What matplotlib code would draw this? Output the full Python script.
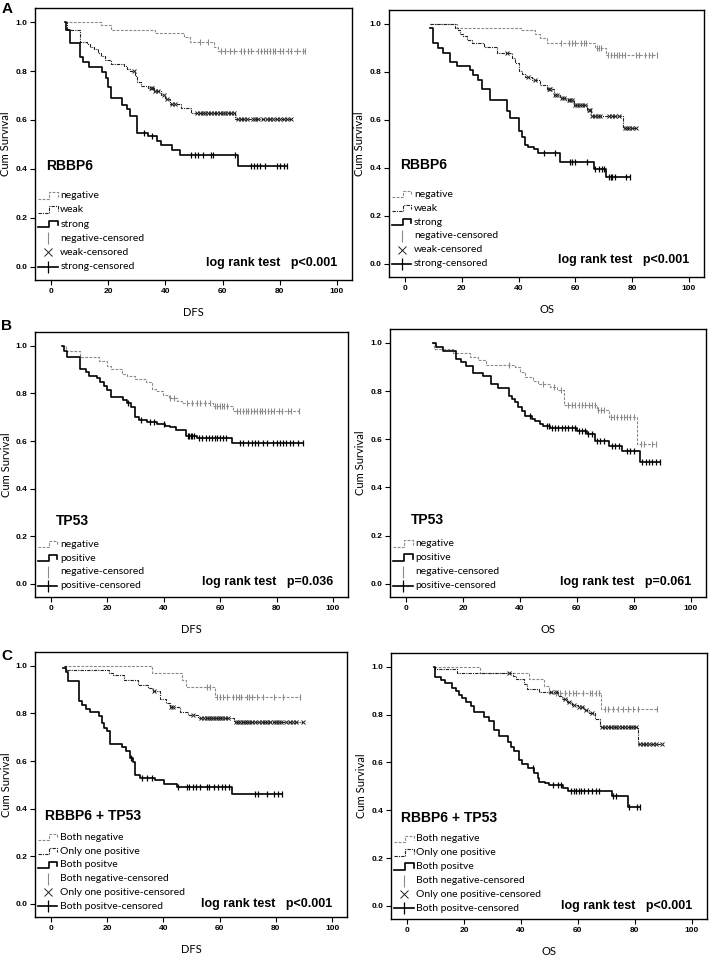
import numpy as np
import matplotlib
matplotlib.use("Agg")
import matplotlib.pyplot as plt

plt.rcParams['font.family'] = ['Lato', 'DejaVu Sans']

# ---------------- data ----------------
# A  RBBP6, DFS
a_dfs_neg_t = [5, 17.5, 21, 36.5, 46.5, 48.5, 57, 58.5]
a_dfs_neg_s = [1.0, 0.99, 0.97, 0.955, 0.94, 0.92, 0.90, 0.884]
a_dfs_neg_c = [52, 55, 59.5, 61, 62.5, 64, 66.5, 67.5, 69, 70, 72.5, 73.5, 74.5, 75.5,
               76.5, 77.5, 78.5, 80, 81, 83, 84, 86, 88, 89]
a_dfs_weak_t = [5, 5.5, 10.3, 12.5, 13.5, 15, 16.5, 17.5, 19, 21, 25.5, 26.5, 27.5, 29.5,
                30.2, 31.5, 34, 36, 38.5, 40, 41.5, 45.5, 49, 64.5]
a_dfs_weak_s = [1.0, 0.967, 0.92, 0.91, 0.90, 0.89, 0.875, 0.86, 0.845, 0.83, 0.82, 0.81,
                0.80, 0.78, 0.755, 0.74, 0.73, 0.72, 0.70, 0.685, 0.665, 0.65, 0.63, 0.605]
a_dfs_weak_c = [29, 35, 35.5, 36.5, 37.5, 39.5, 40.5, 42.5, 43.5, 51, 52, 53, 54, 55, 56, 57,
                58, 59, 60, 61, 62, 63, 64, 65.5, 66.5, 67.5, 68.5, 70.5, 71.5, 72.5, 74,
                75.5, 76.5, 77.5, 79, 80, 81.5, 82.5, 84]
a_dfs_str_t = [5, 5.4, 6.5, 10.3, 11.3, 13.3, 18, 19.2, 20, 21, 25, 26.5, 27.6, 30, 34, 37,
               38.5, 42.5, 45, 65.5]
a_dfs_str_s = [1.0, 0.967, 0.915, 0.858, 0.838, 0.815, 0.797, 0.77, 0.735, 0.69, 0.663, 0.643,
               0.615, 0.545, 0.533, 0.515, 0.497, 0.475, 0.455, 0.413]
a_dfs_str_c = [32.5, 35.5, 49, 50.5, 51.5, 53, 56, 56.5, 64.5, 70, 71, 72, 73, 75, 79, 80.2,
               81.4, 82.7]

# A  RBBP6, OS
a_os_neg_t = [9, 18.2, 40.9, 45.9, 47.6, 50, 67, 70.8]
a_os_neg_s = [1.0, 0.985, 0.975, 0.96, 0.94, 0.922, 0.898, 0.87]
a_os_neg_c = [55, 57.6, 58.8, 60, 61.9, 63, 63.9, 67.5, 68.2, 69.2, 71.5, 72.5, 73.5, 74.5,
              75.5, 76.5, 77.6, 81.2, 82.4, 84.7, 85.9, 87, 88.8]
a_os_weak_t = [9, 17.8, 18.6, 19.4, 20.5, 22, 23.5, 28, 32.4, 37.6, 38.6, 40, 41.2, 42.4,
               44.7, 47.6, 50, 52.4, 54.7, 56.7, 59.4, 64, 65.5, 76.8]
a_os_weak_s = [1.0, 0.985, 0.975, 0.96, 0.95, 0.935, 0.92, 0.905, 0.877, 0.856, 0.835, 0.804,
               0.793, 0.78, 0.765, 0.744, 0.73, 0.705, 0.692, 0.681, 0.664, 0.642, 0.618, 0.565]
a_os_weak_c = [36, 43.5, 45.9, 50.6, 51.2, 53, 53.6, 55.3, 55.9, 57.6, 58.2, 58.8, 60, 60.6,
               61.8, 62.4, 63.3, 64.7, 65.3, 66, 67, 68, 68.8, 71.8, 73, 74.1, 75.3, 77.5,
               78.2, 79, 80, 81.2]
a_os_str_t = [9, 10, 11.8, 13.5, 15.9, 18.2, 22.9, 24.1, 25.9, 27.1, 30, 35.9, 37.1, 40, 41.2,
              42.4, 43.5, 45.3, 46.8, 54.7, 66.5, 70.8]
a_os_str_s = [0.985, 0.919, 0.898, 0.877, 0.842, 0.824, 0.807, 0.786, 0.765, 0.73, 0.681,
              0.639, 0.608, 0.555, 0.527, 0.497, 0.485, 0.478, 0.463, 0.425, 0.394, 0.362]
a_os_str_c = [48.8, 52.9, 58.2, 58.8, 60, 64.1, 67, 68.2, 69.4, 70, 71.8, 72.4, 72.9, 73.9,
              77.9, 79.4]

# B  TP53, DFS
b_dfs_neg_t = [4.1, 5.3, 10.4, 17.1, 20, 21.2, 25.3, 27, 30, 33.9, 35.9, 37.1, 39.8, 41.8,
               44.8, 46.5, 57.5, 64.7]
b_dfs_neg_s = [1.0, 0.979, 0.952, 0.938, 0.917, 0.903, 0.883, 0.873, 0.862, 0.848, 0.82, 0.81,
               0.793, 0.782, 0.768, 0.759, 0.748, 0.728]
b_dfs_neg_c = [42.4, 43.5, 48.3, 50, 51.8, 53, 54.8, 56.5, 58.2, 59, 59.8, 60.6, 61.4, 62.5,
               66, 67, 68, 69, 70, 71, 72, 73, 74, 75, 76, 77, 78, 79, 81, 82, 84, 85, 88]
b_dfs_pos_t = [4.1, 4.7, 5.9, 10.4, 12.4, 13.5, 16.5, 17.4, 18.8, 20, 21.2, 25.7, 26.9, 28.3,
               30, 31.2, 34.1, 37.7, 40.3, 42.1, 44.5, 47.8, 51.8, 64.1]
b_dfs_pos_s = [1.0, 0.98, 0.955, 0.903, 0.892, 0.875, 0.864, 0.85, 0.831, 0.813, 0.785, 0.772,
               0.758, 0.745, 0.699, 0.689, 0.679, 0.671, 0.665, 0.657, 0.648, 0.622, 0.611,
               0.592]
b_dfs_pos_c = [27.5, 32, 35.3, 36.5, 40, 48.5, 49, 49.5, 50, 50.7, 52.5, 53.5, 55, 56, 57, 58,
               59, 60, 61, 62, 67, 68.2, 70, 71.2, 72.4, 73.5, 75.3, 76.5, 78.8, 80, 81.2,
               82.4, 83.5, 84.7, 85.9, 87.6, 89.4]

# B  TP53, OS
b_os_neg_t = [9.2, 9.9, 16.5, 22.4, 25.3, 28.2, 38.2, 40, 41.8, 44.7, 46.5, 50.6, 53, 55.3,
              67, 71.2, 81.2]
b_os_neg_s = [1.0, 0.975, 0.96, 0.94, 0.929, 0.91, 0.90, 0.879, 0.858, 0.844, 0.831, 0.817,
              0.804, 0.744, 0.722, 0.694, 0.579]
b_os_neg_c = [36.2, 48.2, 51.8, 54.5, 57, 58.2, 59.4, 60.6, 61.8, 62.9, 64.1, 65.3, 66.2,
              67.4, 68.5, 69.4, 71.8, 73, 74.1, 75.3, 76.5, 77.6, 78.8, 80, 82.4, 83.5, 86.5,
              87.6]
b_os_pos_t = [9.6, 10.6, 12.9, 17.6, 19.4, 21.2, 23.5, 27.1, 30, 32.4, 36.1, 37.1, 38.2,
              39.4, 40.6, 41.8, 44.2, 45.3, 47.1, 48.2, 50.6, 60, 63.5, 66.5, 71.2, 75.9, 82]
b_os_pos_s = [1.0, 0.982, 0.968, 0.933, 0.922, 0.906, 0.875, 0.864, 0.829, 0.811, 0.78,
              0.767, 0.753, 0.736, 0.718, 0.697, 0.686, 0.676, 0.662, 0.656, 0.647, 0.635,
              0.621, 0.593, 0.572, 0.551, 0.506]
b_os_pos_c = [43.5, 49.5, 50.2, 51.2, 52.4, 53.5, 54.7, 55.9, 57, 58.2, 59.4, 60.6, 61.8,
              62.9, 64, 65.3, 67, 68.2, 69.4, 72.4, 73.5, 74.7, 77.6, 78.8, 80, 82.9, 84.1,
              85.3, 86.5, 87.6, 89]

# C  RBBP6 + TP53, DFS
c_dfs_neg_t = [4.6, 36, 46.6, 48.2, 58.5]
c_dfs_neg_s = [1.0, 0.97, 0.942, 0.91, 0.871]
c_dfs_neg_c = [55.5, 56.7, 59, 60.2, 61.1, 62.5, 64.9, 65.9, 66.9, 67.8, 69.7, 70.6, 71.6,
               73.2, 75.6, 79.2, 82.7, 88.6]
c_dfs_one_t = [4.6, 5.3, 20.7, 22.1, 26.2, 30.9, 34.5, 36.2, 38.7, 41.1, 42.5, 45.8, 48.8,
               52.4, 65]
c_dfs_one_s = [1.0, 0.983, 0.97, 0.962, 0.942, 0.921, 0.908, 0.895, 0.862, 0.842, 0.825,
               0.807, 0.793, 0.782, 0.762]
c_dfs_one_c = [36.6, 42.8, 43.4, 50.5, 53.5, 54.5, 55.5, 56.3, 57, 57.8, 58.6, 59.4, 60.2, 61,
               62, 63, 65.8, 66.6, 67.4, 68.2, 69, 69.8, 70.6, 71.4, 72.5, 74, 75, 76, 77, 78,
               79.2, 80, 81, 82, 83.5, 85, 86, 87, 89.5]
c_dfs_pos_t = [4.5, 5.3, 6.1, 10, 11.2, 12.6, 13.8, 17.2, 18.2, 18.9, 20, 21.2, 25.3, 26.6,
               28.1, 29.3, 30, 31.6, 37.2, 40.1, 44.9, 64.4]
c_dfs_pos_s = [0.99, 0.975, 0.938, 0.851, 0.837, 0.82, 0.806, 0.788, 0.76, 0.74, 0.725, 0.67,
               0.658, 0.642, 0.612, 0.598, 0.542, 0.53, 0.52, 0.505, 0.49, 0.46]
c_dfs_pos_c = [28.5, 32.4, 34.1, 35.9, 45.4, 48.4, 49.3, 50.5, 51.7, 53.1, 55.5, 56.4, 57.9,
               59.6, 60.8, 62, 63.2, 72.6, 73.8, 76.8, 79.2, 80.6, 82.1]

# C  RBBP6 + TP53, OS
c_os_neg_t = [9.4, 25.5, 43, 48.2, 50, 68.2]
c_os_neg_s = [1.0, 0.975, 0.95, 0.92, 0.89, 0.822]
c_os_neg_c = [52.4, 53.8, 55.3, 57, 58.2, 59.4, 61.8, 64.1, 65, 66.2, 67.4, 69.4, 70.6, 72.4,
              74.1, 75.9, 77.6, 79.4, 81.2, 87.6]
c_os_one_t = [9.4, 10, 17.6, 37.1, 38.2, 41.2, 42, 46.5, 52.9, 54.5, 56, 58, 60, 62, 64, 65.9,
              67.6, 81.2]
c_os_one_s = [1.0, 0.989, 0.974, 0.961, 0.95, 0.929, 0.906, 0.894, 0.88, 0.865, 0.852, 0.842,
              0.83, 0.82, 0.805, 0.78, 0.749, 0.679]
c_os_one_c = [35.9, 50.6, 52.4, 55.3, 57, 58.5, 60.5, 61.5, 63, 65, 68.4, 69.5, 70.5, 71.5,
              72.5, 73.5, 74.5, 75.5, 76.5, 77.5, 78.5, 79.5, 80.5, 81.8, 83, 84, 85, 86.5,
              87.5, 89.4]
c_os_pos_t = [9.6, 10, 11.8, 13.5, 15.9, 17.1, 18.2, 19.4, 20.6, 22.4, 23.5, 27.1, 28.8, 30.6,
              32.4, 35.3, 36.5, 37.6, 39.4, 40.4, 42.4, 44.7, 45.9, 46.5, 48.6, 50, 54.9,
              56.5, 71.8, 77.6]
c_os_pos_s = [1.0, 0.957, 0.943, 0.933, 0.911, 0.897, 0.883, 0.869, 0.853, 0.836, 0.811, 0.79,
              0.772, 0.735, 0.711, 0.686, 0.665, 0.647, 0.61, 0.592, 0.575, 0.554, 0.536,
              0.519, 0.512, 0.506, 0.494, 0.48, 0.461, 0.413]
c_os_pos_c = [44.1, 51.2, 53, 54.2, 57.5, 58.5, 59.5, 60.5, 61.2, 62, 63.5, 65, 66.5, 67.5,
              72.4, 73.3, 77.8, 80.6, 81.8]

x_ticks = [0, 20, 40, 60, 80, 100]
y_ticks = [0.0, 0.2, 0.4, 0.6, 0.8, 1.0]

# ---------------- styles ----------------
GRAY = '#8a8a8a'
STY = {
    'neg':  dict(color=GRAY, lw=0.8, ls=(0, (2.5, 1.3)), marker='|', ms=5, mew=0.8),
    'weak': dict(color='#222222', lw=0.8, ls=(0, (3, 1, 1, 1)), marker='x', ms=3.5, mew=0.7),
    'str':  dict(color='black', lw=1.2, ls='-', marker='|', ms=5, mew=0.9),
}


def km(ax, t, s, c, key):
    st = STY[key]
    t = np.asarray(t, float)
    s = np.asarray(s, float)
    c = np.asarray(c, float)
    end = max(t[-1], c.max()) if len(c) else t[-1]
    ax.step(np.append(t, end), np.append(s, s[-1]), where='post',
            color=st['color'], lw=st['lw'], ls=st['ls'])
    idx = np.searchsorted(t, c, side='right') - 1
    ax.plot(c, s[idx], ls='none', marker=st['marker'], ms=st['ms'],
            mew=st['mew'], color=st['color'])


def legend(ax, title, title_x, title_y, y0, entries):
    ax.text(title_x, title_y, title, fontsize=10, fontweight='bold',
            family='Liberation Sans', va='center', ha='left')
    x0, x1, x2 = -4.6, -0.6, 2.3
    for i, (label, key, kind) in enumerate(entries):
        y = y0 - i * 0.058
        st = STY[key]
        if kind == 'line':
            ax.plot([x0, x1, x1, x2, x2], [y - 0.012, y - 0.012, y + 0.014, y + 0.014, y - 0.004],
                    color=st['color'], lw=st['lw'], ls=st['ls'], clip_on=False)
        else:
            if key == 'str':
                ax.plot([x0, x2], [y, y], color=st['color'], lw=st['lw'], clip_on=False)
            ax.plot([(x0 + x2) / 2], [y], marker=st['marker'], ms=st['ms'] * 1.6,
                    mew=st['mew'], color=st['color'], clip_on=False)
        ax.text(3.2, y, label, fontsize=7.5, va='center', ha='left')


def style_axes(ax, xlabel):
    ax.set_xlim(-5.6, 105.3)
    ax.set_ylim(-0.055, 1.058)
    ax.set_xticks(x_ticks)
    ax.set_yticks(y_ticks)
    ax.set_xticklabels([str(v) for v in x_ticks], family='Liberation Sans', fontsize=6,
                       fontweight='bold')
    ax.set_yticklabels(['%.1f' % v for v in y_ticks], family='Liberation Sans', fontsize=6,
                       fontweight='bold')
    ax.tick_params(length=3.5, width=0.8, pad=2, top=False, right=False)
    for sp in ax.spines.values():
        sp.set_linewidth(1.0)
    ax.set_xlabel(xlabel, fontsize=8, labelpad=9)
    ax.set_ylabel('Cum Survival', fontsize=8)
    ax.yaxis.set_label_coords(-0.075, 0.5)


fig = plt.figure(figsize=(7.11, 9.58), dpi=100)
W, H = 711.0, 958.0


def add_ax(l, t, r, b):
    return fig.add_axes([l / W, 1 - b / H, (r - l) / W, (b - t) / H])


ax_al = add_ax(35, 8, 352, 280)
ax_ar = add_ax(389, 10, 704, 277)
ax_bl = add_ax(35, 332, 348, 597)
ax_br = add_ax(390, 329, 706, 597)
ax_cl = add_ax(35, 652, 347, 917)
ax_cr = add_ax(391, 653, 707, 919)

# ---- A ----
km(ax_al, a_dfs_neg_t, a_dfs_neg_s, a_dfs_neg_c, 'neg')
km(ax_al, a_dfs_weak_t, a_dfs_weak_s, a_dfs_weak_c, 'weak')
km(ax_al, a_dfs_str_t, a_dfs_str_s, a_dfs_str_c, 'str')
km(ax_ar, a_os_neg_t, a_os_neg_s, a_os_neg_c, 'neg')
km(ax_ar, a_os_weak_t, a_os_weak_s, a_os_weak_c, 'weak')
km(ax_ar, a_os_str_t, a_os_str_s, a_os_str_c, 'str')
a_entries = [('negative', 'neg', 'line'), ('weak', 'weak', 'line'), ('strong', 'str', 'line'),
             ('negative-censored', 'neg', 'cens'), ('weak-censored', 'weak', 'cens'),
             ('strong-censored', 'str', 'cens')]
for ax, xl in [(ax_al, 'DFS'), (ax_ar, 'OS')]:
    style_axes(ax, xl)
    legend(ax, 'RBBP6', -1.7, 0.41, 0.29, a_entries)
    ax.text(100, 0.016, 'log rank test   p<0.001', fontsize=9, fontweight='bold',
            family='Liberation Sans', ha='right', va='center')

# ---- B ----
km(ax_bl, b_dfs_neg_t, b_dfs_neg_s, b_dfs_neg_c, 'neg')
km(ax_bl, b_dfs_pos_t, b_dfs_pos_s, b_dfs_pos_c, 'str')
km(ax_br, b_os_neg_t, b_os_neg_s, b_os_neg_c, 'neg')
km(ax_br, b_os_pos_t, b_os_pos_s, b_os_pos_c, 'str')
b_entries = [('negative', 'neg', 'line'), ('positive', 'str', 'line'),
             ('negative-censored', 'neg', 'cens'), ('positive-censored', 'str', 'cens')]
for ax, xl, p in [(ax_bl, 'DFS', 'p=0.036'), (ax_br, 'OS', 'p=0.061')]:
    style_axes(ax, xl)
    legend(ax, 'TP53', 1.8, 0.265, 0.166, b_entries)
    ax.text(100, 0.008, 'log rank test   ' + p, fontsize=9, fontweight='bold',
            family='Liberation Sans', ha='right', va='center')

# ---- C ----
km(ax_cl, c_dfs_neg_t, c_dfs_neg_s, c_dfs_neg_c, 'neg')
km(ax_cl, c_dfs_one_t, c_dfs_one_s, c_dfs_one_c, 'weak')
km(ax_cl, c_dfs_pos_t, c_dfs_pos_s, c_dfs_pos_c, 'str')
km(ax_cr, c_os_neg_t, c_os_neg_s, c_os_neg_c, 'neg')
km(ax_cr, c_os_one_t, c_os_one_s, c_os_one_c, 'weak')
km(ax_cr, c_os_pos_t, c_os_pos_s, c_os_pos_c, 'str')
c_entries = [('Both negative', 'neg', 'line'), ('Only one positive', 'weak', 'line'),
             ('Both positve', 'str', 'line'), ('Both negative-censored', 'neg', 'cens'),
             ('Only one positive-censored', 'weak', 'cens'),
             ('Both positve-censored', 'str', 'cens')]
for ax, xl in [(ax_cl, 'DFS'), (ax_cr, 'OS')]:
    style_axes(ax, xl)
    legend(ax, 'RBBP6 + TP53', -2.0, 0.368, 0.28, c_entries)
    ax.text(100, 0.0, 'log rank test   p<0.001', fontsize=9, fontweight='bold',
            family='Liberation Sans', ha='right', va='center')

for lab, yp in [('A', 9), ('B', 326), ('C', 656)]:
    fig.text(7 / W, 1 - yp / H, lab, fontsize=11, fontweight='bold',
             family='Liberation Sans', ha='center', va='center')

fig.savefig('out.png', dpi=100)
